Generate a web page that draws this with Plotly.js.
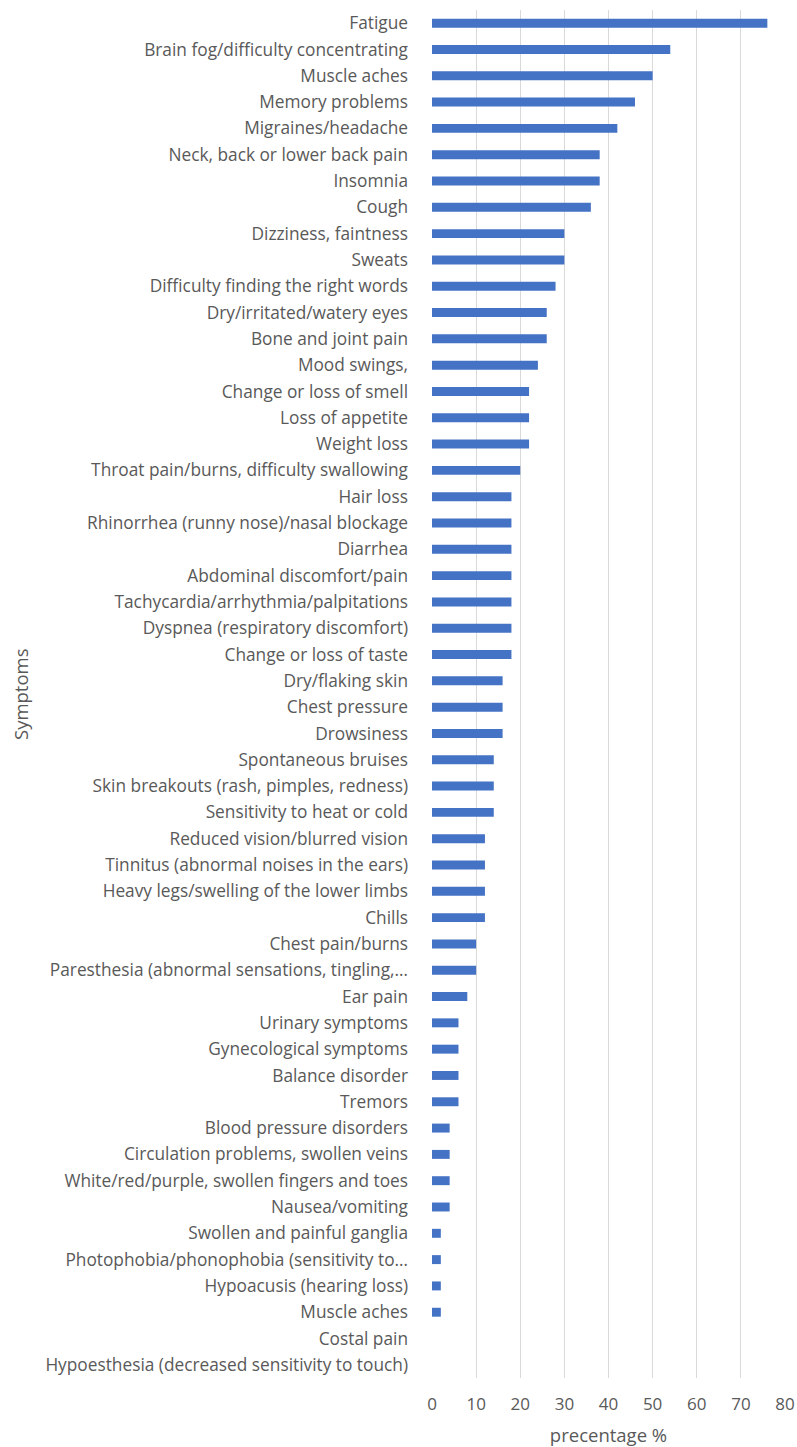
<!DOCTYPE html>
<html>
<head>
<meta charset="utf-8">
<script src="https://cdn.plot.ly/plotly-3.0.1.min.js"></script>
<style>html,body{margin:0;padding:0;background:#fff;}#chart{width:797px;height:1447px;}</style>
</head>
<body>
<div id="chart"></div>
<script>
const symptoms = [
  "Fatigue",
  "Brain fog/difficulty concentrating",
  "Muscle aches",
  "Memory problems",
  "Migraines/headache",
  "Neck, back or lower back pain",
  "Insomnia",
  "Cough",
  "Dizziness, faintness",
  "Sweats",
  "Difficulty finding the right words",
  "Dry/irritated/watery eyes",
  "Bone and joint pain",
  "Mood swings,",
  "Change or loss of smell",
  "Loss of appetite",
  "Weight loss",
  "Throat pain/burns, difficulty swallowing",
  "Hair loss",
  "Rhinorrhea (runny nose)/nasal blockage",
  "Diarrhea",
  "Abdominal discomfort/pain",
  "Tachycardia/arrhythmia/palpitations",
  "Dyspnea (respiratory discomfort)",
  "Change or loss of taste",
  "Dry/flaking skin",
  "Chest pressure",
  "Drowsiness",
  "Spontaneous bruises",
  "Skin breakouts (rash, pimples, redness)",
  "Sensitivity to heat or cold",
  "Reduced vision/blurred vision",
  "Tinnitus (abnormal noises in the ears)",
  "Heavy legs/swelling of the lower limbs",
  "Chills",
  "Chest pain/burns",
  "Paresthesia (abnormal sensations, tingling,…",
  "Ear pain",
  "Urinary symptoms",
  "Gynecological symptoms",
  "Balance disorder",
  "Tremors",
  "Blood pressure disorders",
  "Circulation problems, swollen veins",
  "White/red/purple, swollen fingers and toes",
  "Nausea/vomiting",
  "Swollen and painful ganglia",
  "Photophobia/phonophobia (sensitivity to…",
  "Hypoacusis (hearing loss)",
  "Muscle aches",
  "Costal pain",
  "Hypoesthesia (decreased sensitivity to touch)"
];
const percentages = [
  76, 54, 50, 46, 42, 38, 38, 36, 30, 30,
  28, 26, 26, 24, 22, 22, 22, 20, 18, 18,
  18, 18, 18, 18, 18, 16, 16, 16, 14, 14,
  14, 12, 12, 12, 12, 10, 10, 8, 6, 6,
  6, 6, 4, 4, 4, 4, 2, 2, 2, 2,
  0, 0
];
const xTicks = [0, 10, 20, 30, 40, 50, 60, 70, 80];

// Duplicate label ("Muscle aches") -> use row positions with tick text
const rows = symptoms.map((_, i) => i);

const fontFam = "'Open Sans', 'Noto Sans', sans-serif";
const grey = "#595959";

const trace = {
  type: "bar",
  orientation: "h",
  x: percentages,
  y: rows,
  marker: {color: "#4472C4"},
  hoverinfo: "x"
};

const M = {l: 432, r: 12, t: 10, b: 69};
const plotW = 797 - M.l - M.r;
const plotH = 1447 - M.t - M.b;

const layout = {
  width: 797,
  height: 1447,
  margin: Object.assign({pad: 0}, M),
  paper_bgcolor: "#ffffff",
  plot_bgcolor: "#ffffff",
  bargap: 0.66,
  showlegend: false,
  font: {family: fontFam, color: grey, size: 17},
  xaxis: {
    range: [0, 80],
    tickvals: xTicks,
    ticktext: xTicks.map(String),
    showgrid: true,
    gridcolor: "#d9d9d9",
    gridwidth: 1,
    zeroline: false,
    showline: false,
    ticks: "",
    ticklabelstandoff: 14,
    tickfont: {family: fontFam, size: 17, color: grey},
    title: {text: "precentage %", font: {family: fontFam, size: 18.5, color: grey}, standoff: 17},
    automargin: false,
    fixedrange: true
  },
  yaxis: {
    range: [symptoms.length - 0.5, -0.5],
    tickvals: rows,
    ticktext: symptoms,
    showgrid: false,
    zeroline: false,
    showline: false,
    ticks: "",
    ticklabelstandoff: 23,
    tickfont: {family: fontFam, size: 17.3, color: grey},
    automargin: false,
    fixedrange: true
  },
  annotations: [{
    text: "Symptoms",
    xref: "paper", yref: "paper",
    x: (20 - M.l) / plotW,
    y: (1447 - M.b - 694) / plotH,
    xanchor: "center", yanchor: "middle",
    textangle: -90,
    showarrow: false,
    font: {family: fontFam, size: 18.5, color: grey}
  }]
};

Plotly.newPlot("chart", [trace], layout, {displayModeBar: false, staticPlot: true});
</script>
</body>
</html>
